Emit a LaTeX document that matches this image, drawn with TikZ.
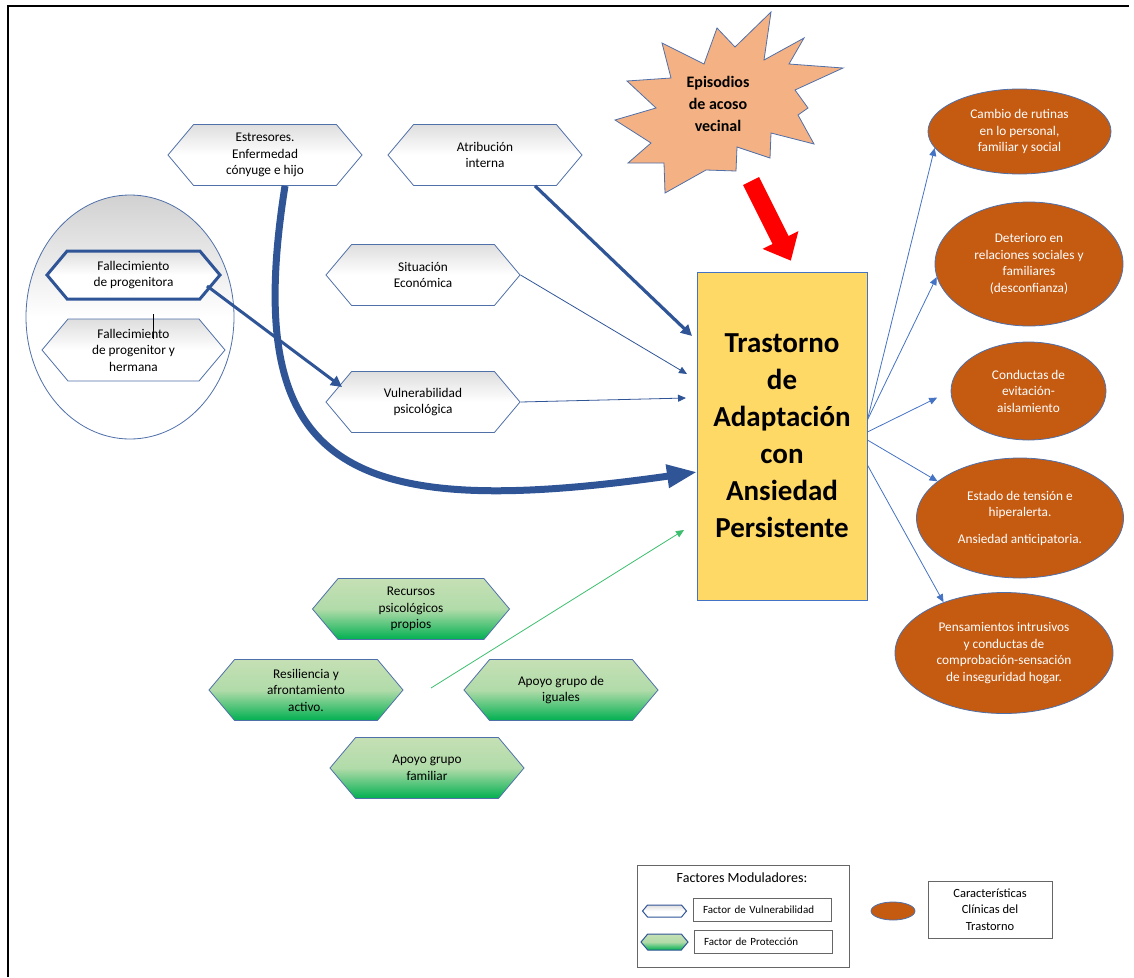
\documentclass[tikz,border=0pt]{standalone}
\usepackage{fontspec}
\setmainfont{Carlito}
\usetikzlibrary{shapes.symbols,shapes.geometric,arrows.meta}
\definecolor{hexline}{RGB}{80,112,170}
\definecolor{navy}{RGB}{47,85,151}
\definecolor{sky}{RGB}{68,114,196}
\definecolor{rust}{RGB}{197,90,17}
\definecolor{amber}{RGB}{255,217,102}
\definecolor{peach}{RGB}{244,177,131}
\definecolor{leaf}{RGB}{197,224,180}
\definecolor{grass}{RGB}{0,176,80}
\definecolor{lime}{RGB}{60,190,110}

\begin{document}
\begin{tikzpicture}[x=1pt, y=-1pt,
        hexa/.style = {signal, signal to=east and west,
            signal pointer angle=100, draw=hexline, line width=0.8pt,
            align=center, inner sep=1pt,
            minimum width=194pt, minimum height=61pt,
            font=\fontsize{13.3}{16.5}\selectfont},
        vul/.style = {hexa, top color=black!13, bottom color=white,
            middle color=white},
        prot/.style = {hexa, top color=leaf, bottom color=grass,
            middle color=leaf!90!grass},
        sintoma/.style = {ellipse, draw=hexline, line width=0.8pt,
            fill=rust, text=white, align=center, inner sep=0pt,
            font=\fontsize{13.3}{16.5}\selectfont},
        fino/.style = {line width=0.8pt, -{Triangle[length=8pt,width=7pt]}},
        grueso/.style = {draw=navy, line width=3.2pt,
            -{Triangle[length=11pt,width=11pt]}},
        caja/.style = {draw=black!60, line width=0.8pt}]
    \useasboundingbox (0,0) rectangle (1134,977);
    \draw[line width=2pt] (8,977) -- (8,6) -- (1129,6);

    % factores de vulnerabilidad
    \node[ellipse, draw=hexline, line width=0.8pt, minimum width=208pt,
        minimum height=244pt, top color=black!18, bottom color=white,
        middle color=white] (duelo) at (130,317) {};
    \node[vul, draw=navy, line width=3pt, minimum width=173pt,
        minimum height=48pt] (fprog) at (133.5,275)
        {Fallecimiento\\de progenitora};
    \node[vul, minimum width=183pt, minimum height=62pt] (fprogh)
        at (133.5,350) {Fallecimiento\\de progenitor y\\hermana};
    \draw[line width=0.6pt] (153,314) -- (153,339);
    \node[vul] (estr) at (265,155) {Estresores.\\Enfermedad\\cónyuge e hijo};
    \node[vul] (atrib) at (485,155) {Atribución\\interna};
    \node[vul] (situ) at (423,275) {Situación\\Económica};
    \node[vul] (vuln) at (423,402) {Vulnerabilidad\\psicológica};

    % factores de proteccion
    \node[prot, minimum width=197pt] (recur) at (411,609)
        {Recursos\\psicológicos\\propios};
    \node[prot] (resil) at (306,690) {Resiliencia y\\afrontamiento\\activo.};
    \node[prot] (iguales) at (561,690) {Apoyo grupo de\\iguales};
    \node[prot] (famil) at (427,768) {Apoyo grupo\\familiar};

    % trastorno
    \node[draw=sky, line width=0.8pt, fill=amber, minimum width=170pt,
        minimum height=328pt, align=center,
        font=\bfseries\fontsize{29}{37}\selectfont] (trast) at (782,436)
        {Trastorno\\de\\Adaptación\\con\\Ansiedad\\Persistente};

    \draw[draw=hexline, fill=peach, line width=0.8pt] (771,12) -- (764,60)
        -- (804,38) -- (789,64) -- (843,68) -- (795,90) -- (808,108)
        -- (798,115) -- (814,144) -- (771,133) -- (770,158) -- (737,147)
        -- (736,171) -- (706,170) -- (665,193) -- (664,163) -- (628,163)
        -- (651,143) -- (615,120) -- (656,108) -- (627,81) -- (671,78)
        -- (662,43) -- (704,64) -- (717,28) -- (735,47) -- cycle;
    \node[align=center, font=\bfseries\fontsize{16}{22}\selectfont]
        (acoso) at (718,104) {Episodios\\de acoso\\vecinal};
    \fill[red] (743,185) -- (772.5,244) -- (762.6,248.9) -- (790.8,260.6)
        -- (798.4,231.1) -- (788.6,236) -- (759,177) -- cycle;

    % caracteristicas clinicas
    \node[sintoma, minimum width=183pt, minimum height=85pt] (c1)
        at (1019.5,131.5) {Cambio de rutinas\\en lo personal,\\familiar y social};
    \node[sintoma, minimum width=188pt, minimum height=124pt] (c2)
        at (1029,264) {Deterioro en\\relaciones sociales y\\familiares\\(desconfianza)};
    \node[sintoma, minimum width=155pt, minimum height=98pt] (c3)
        at (1028.5,391) {Conductas de\\evitación-\\aislamiento};
    \node[sintoma, minimum width=207pt, minimum height=120pt] (c4)
        at (1020,518) {Estado de tensión e\\hiperalerta.\\[10pt]Ansiedad anticipatoria.};
    \node[sintoma, minimum width=218pt, minimum height=121pt] (c5)
        at (1004,653) {Pensamientos intrusivos\\y conductas de\\comprobación-sensación\\de inseguridad hogar.};

    \coordinate (inAtrib) at (692,336);
    \coordinate (inSitu) at (687,374);
    \coordinate (inVuln) at (686,398);
    \coordinate (inEstr) at (697,472);
    \coordinate (protA) at (431,688);
    \coordinate (inProt) at (684,530);

    \draw[grueso] ([xshift=50pt]atrib.south) -- (inAtrib);
    \draw[fino, draw=navy] (situ.east) -- (inSitu);
    \draw[fino, draw=navy] (vuln.east) -- (inVuln);
    \draw[grueso, line width=3pt] ([xshift=73.5pt,yshift=-11pt]fprog.center)
        -- ([xshift=-81pt,yshift=15pt]vuln.center);
    \draw[draw=navy, line width=7pt, -{Triangle[length=30pt,width=22pt]}]
        ([xshift=20pt]estr.south) .. controls (240,470) and (345,522) .. (inEstr);
    \draw[fino, draw=lime] (protA) -- (inProt);

    \draw[fino, draw=sky] ([yshift=16pt]trast.east) -- (c1.191);
    \draw[fino, draw=sky] ([yshift=16pt]trast.east) -- (c2.188);
    \draw[fino, draw=sky, shorten >=15pt] ([yshift=4pt]trast.east) -- (c3.180);
    \draw[fino, draw=sky] ([yshift=-4pt]trast.east) -- (c4.156);
    \draw[fino, draw=sky] ([yshift=-29pt]trast.east) -- (c5.140);

    % leyenda
    \node[caja, minimum width=212pt, minimum height=102pt] (leyenda)
        at (743,916) {};
    \node[font=\fontsize{14}{16}\selectfont] (leytit) at (742,878)
        {Factores Moduladores:};
    \node[vul, draw=navy, line width=1pt, minimum width=44pt,
        minimum height=12pt] (legvul) at (664.5,911) {};
    \node[caja, minimum height=23pt, inner xsep=10pt, inner ysep=0pt,
        text width=118pt, align=left,
        font=\fontsize{11}{13}\selectfont] (txtvul) at (762,909.5)
        {Factor de Vulnerabilidad};
    \node[prot, draw=navy, line width=1pt, minimum width=47pt,
        minimum height=16pt] (legprot) at (664.5,942) {};
    \node[caja, minimum height=23pt, inner xsep=10pt, inner ysep=0pt,
        text width=118pt, align=left,
        font=\fontsize{11}{13}\selectfont] (txtprot) at (763,941.5)
        {Factor de Protección};
    \node[sintoma, minimum width=44pt, minimum height=18pt] (legsint)
        at (893,911) {};
    \node[caja, minimum width=124pt, minimum height=57pt, align=center,
        font=\fontsize{12.5}{16.5}\selectfont] (txtsint) at (990,909.5)
        {Características\\Clínicas del\\Trastorno};
\end{tikzpicture}
\end{document}
